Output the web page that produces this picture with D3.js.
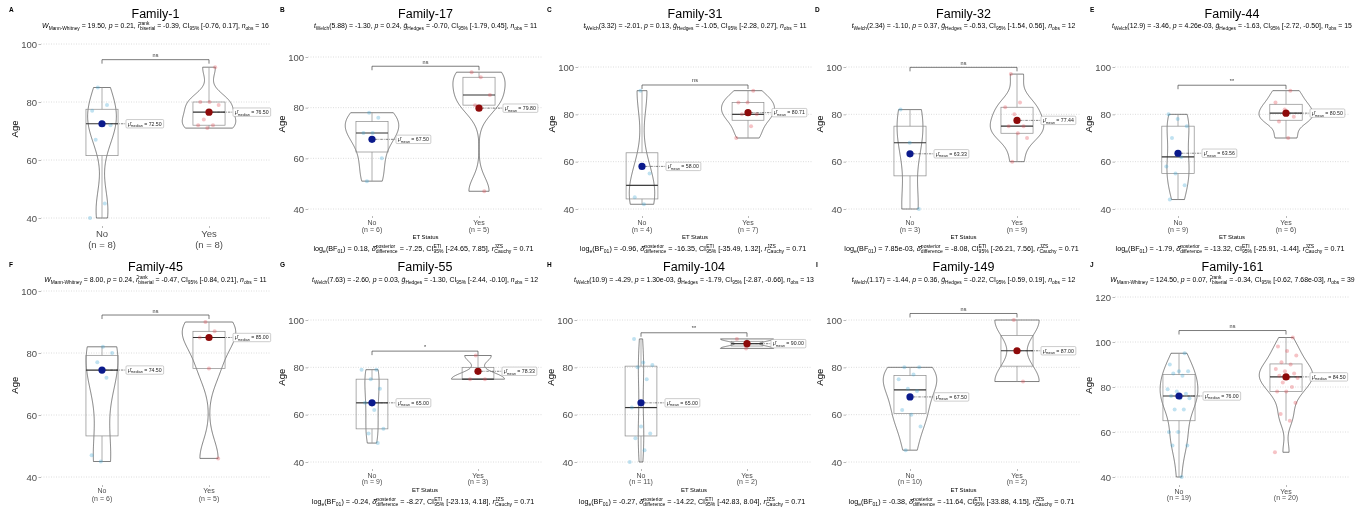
<!DOCTYPE html>
<html>
<head>
<meta charset="utf-8">
<script src="https://cdn.jsdelivr.net/npm/d3@7"></script>
<style>
  html, body { margin: 0; padding: 0; background: #fff; }
  svg { font-family: "Liberation Sans", Arial, Helvetica, sans-serif; will-change: transform; }
</style>
</head>
<body>
<svg id="chart" width="1369" height="510"></svg>
<script>
// ---- data ----------------------------------------------------------------
const panelTags = ["A", "B", "C", "D", "E", "F", "G", "H", "I", "J"];
const familyTitles = ["Family-1", "Family-17", "Family-31", "Family-32", "Family-44",
                      "Family-45", "Family-55", "Family-104", "Family-149", "Family-161"];
const groups = ["No", "Yes"];
const xAxisTitle = "ET Status";
const yAxisTitle = "Age";

// individual ages per family, ET status "No"
const ageNo = [
  [40, 45, 67, 72, 73, 77, 79, 85],
  [51, 60, 70, 70, 76, 78],
  [42, 45, 55, 90],
  [40, 68, 82],
  [44, 50, 55, 58, 62, 70, 75, 78, 80],
  [45, 47, 72, 77, 80, 82],
  [48, 52, 54, 62, 65, 71, 75, 79, 79],
  [40, 45, 50, 52, 55, 63, 75, 80, 81, 82, 92],
  [45, 55, 60, 62, 70, 71, 75, 77, 80, 80],
  [40, 54, 54, 60, 60, 70, 70, 75, 75, 76, 77, 78, 79, 85, 86, 87, 87, 90, 95]
];
// individual ages per family, ET status "Yes"
const ageYes = [
  [71, 72, 72, 74, 79, 80, 80, 92],
  [47, 81, 85, 92, 94],
  [70, 75, 80, 80, 85, 85, 90],
  [60, 70, 72, 75, 75, 80, 83, 85, 97],
  [70, 77, 79, 82, 85, 90],
  [46, 75, 85, 87, 90],
  [75, 75, 85],
  [88, 92],
  [74, 100],
  [51, 65, 68, 73, 78, 78, 80, 82, 84, 84, 85, 86, 87, 88, 90, 91, 94, 96, 98, 102]
];
// centrality measure shown per family and its value for each group
const centreKind = ["median", "mean", "mean", "mean", "mean", "median", "mean", "mean", "mean", "median"];
const centreNo  = [72.50, 67.50, 58.00, 63.33, 63.56, 74.50, 65.00, 65.00, 67.50, 76.00];
const centreYes = [76.50, 79.80, 80.71, 77.44, 80.50, 85.00, 78.33, 90.00, 87.00, 84.50];
const sigMarks = ["ns", "ns", "ns", "ns", "**", "ns", "*", "**", "ns", "ns"];
const yTickValues = [
  [40, 60, 80, 100], [40, 60, 80, 100], [40, 60, 80, 100], [40, 60, 80, 100], [40, 60, 80, 100],
  [40, 60, 80, 100], [40, 60, 80, 100], [40, 60, 80, 100], [40, 60, 80, 100], [40, 60, 80, 100, 120]
];
// statistical subtitles: *italic*, _{sub}, ^{sup}, #{sup|sub}
const subtitles = [
  "*W*_{Mann-Whitney} = 19.50, *p* = 0.21, *r̂*#{rank|biserial} = -0.39, CI_{95%} [-0.76, 0.17], *n*_{obs} = 16",
  "*t*_{Welch}(5.88) = -1.30, *p* = 0.24, *ĝ*_{Hedges} = -0.70, CI_{95%} [-1.79, 0.45], *n*_{obs} = 11",
  "*t*_{Welch}(3.32) = -2.01, *p* = 0.13, *ĝ*_{Hedges} = -1.05, CI_{95%} [-2.28, 0.27], *n*_{obs} = 11",
  "*t*_{Welch}(2.34) = -1.10, *p* = 0.37, *ĝ*_{Hedges} = -0.53, CI_{95%} [-1.54, 0.56], *n*_{obs} = 12",
  "*t*_{Welch}(12.9) = -3.46, *p* = 4.26e-03, *ĝ*_{Hedges} = -1.63, CI_{95%} [-2.72, -0.50], *n*_{obs} = 15",
  "*W*_{Mann-Whitney} = 8.00, *p* = 0.24, *r̂*#{rank|biserial} = -0.47, CI_{95%} [-0.84, 0.21], *n*_{obs} = 11",
  "*t*_{Welch}(7.63) = -2.60, *p* = 0.03, *ĝ*_{Hedges} = -1.30, CI_{95%} [-2.44, -0.10], *n*_{obs} = 12",
  "*t*_{Welch}(10.9) = -4.29, *p* = 1.30e-03, *ĝ*_{Hedges} = -1.79, CI_{95%} [-2.87, -0.66], *n*_{obs} = 13",
  "*t*_{Welch}(1.17) = -1.44, *p* = 0.36, *ĝ*_{Hedges} = -0.22, CI_{95%} [-0.59, 0.19], *n*_{obs} = 12",
  "*W*_{Mann-Whitney} = 124.50, *p* = 0.07, *r̂*#{rank|biserial} = -0.34, CI_{95%} [-0.62, 7.68e-03], *n*_{obs} = 39"
];
// Bayesian captions (null where none is shown)
const captions = [
  null,
  "log_{e}(BF_{01}) = 0.18, *δ̂*#{posterior|difference} = -7.25, CI#{ETI|95%} [-24.65, 7.85], *r*#{JZS|Cauchy} = 0.71",
  "log_{e}(BF_{01}) = -0.96, *δ̂*#{posterior|difference} = -16.35, CI#{ETI|95%} [-35.49, 1.32], *r*#{JZS|Cauchy} = 0.71",
  "log_{e}(BF_{01}) = 7.85e-03, *δ̂*#{posterior|difference} = -8.08, CI#{ETI|95%} [-26.21, 7.56], *r*#{JZS|Cauchy} = 0.71",
  "log_{e}(BF_{01}) = -1.79, *δ̂*#{posterior|difference} = -13.32, CI#{ETI|95%} [-25.91, -1.44], *r*#{JZS|Cauchy} = 0.71",
  null,
  "log_{e}(BF_{01}) = -0.24, *δ̂*#{posterior|difference} = -8.27, CI#{ETI|95%} [-23.13, 4.18], *r*#{JZS|Cauchy} = 0.71",
  "log_{e}(BF_{01}) = -0.27, *δ̂*#{posterior|difference} = -14.22, CI#{ETI|95%} [-42.83, 8.04], *r*#{JZS|Cauchy} = 0.71",
  "log_{e}(BF_{01}) = -0.38, *δ̂*#{posterior|difference} = -11.64, CI#{ETI|95%} [-33.88, 4.15], *r*#{JZS|Cauchy} = 0.71",
  null
];

// ---- layout ----------------------------------------------------------------
const rowText = [
  { titleY: 18, subY: 28, tagY: 12 },
  { titleY: 271, subY: 281.5, tagY: 267 }
];
const panelLayout = [
  { row: 0, axisX: 41,   noX: 102,  yesX: 209,  yLo: 218, yHi: 44,  hiVal: 100, xAxisY: 226, lab1Y: 237,   lab2Y: 248,   labSize: 9.5, etY: null,  capY: null, tagX: 9 },
  { row: 0, axisX: 308,  noX: 372,  yesX: 479,  yLo: 209, yHi: 57,  hiVal: 100, xAxisY: 216, lab1Y: 224.5, lab2Y: 231.5, labSize: 7,   etY: 238.5, capY: 251,  tagX: 280 },
  { row: 0, axisX: 578,  noX: 642,  yesX: 748,  yLo: 209, yHi: 67,  hiVal: 100, xAxisY: 216, lab1Y: 224.5, lab2Y: 231.5, labSize: 7,   etY: 238.5, capY: 251,  tagX: 547 },
  { row: 0, axisX: 846,  noX: 910,  yesX: 1017, yLo: 209, yHi: 67,  hiVal: 100, xAxisY: 216, lab1Y: 224.5, lab2Y: 231.5, labSize: 7,   etY: 238.5, capY: 251,  tagX: 815 },
  { row: 0, axisX: 1115, noX: 1178, yesX: 1286, yLo: 209, yHi: 67,  hiVal: 100, xAxisY: 216, lab1Y: 224.5, lab2Y: 231.5, labSize: 7,   etY: 238.5, capY: 251,  tagX: 1090 },
  { row: 1, axisX: 41,   noX: 102,  yesX: 209,  yLo: 477, yHi: 291, hiVal: 100, xAxisY: 485, lab1Y: 492.5, lab2Y: 500.5, labSize: 7,   etY: null,  capY: null, tagX: 9 },
  { row: 1, axisX: 308,  noX: 372,  yesX: 478,  yLo: 462, yHi: 320, hiVal: 100, xAxisY: 469, lab1Y: 477.5, lab2Y: 484,   labSize: 7,   etY: 491.5, capY: 504,  tagX: 280 },
  { row: 1, axisX: 577,  noX: 641,  yesX: 747,  yLo: 462, yHi: 320, hiVal: 100, xAxisY: 469, lab1Y: 477.5, lab2Y: 484,   labSize: 7,   etY: 491.5, capY: 504,  tagX: 547 },
  { row: 1, axisX: 846,  noX: 910,  yesX: 1017, yLo: 462, yHi: 320, hiVal: 100, xAxisY: 469, lab1Y: 477.5, lab2Y: 484,   labSize: 7,   etY: 491.5, capY: 504,  tagX: 816 },
  { row: 1, axisX: 1115, noX: 1179, yesX: 1286, yLo: 477, yHi: 297, hiVal: 120, xAxisY: 485, lab1Y: 493.5, lab2Y: 500,   labSize: 7,   etY: null,  capY: null, tagX: 1090 }
];
const pointFill = { No: "#3aa6d4", Yes: "#e2434f" };
const centreFill = { No: "#0b1a8c", Yes: "#8e0a0a" };
const textGrey = "#4d4d4d";

const svg = d3.select("#chart");

// ---- helpers -----------------------------------------------------------
// keep spaces visible inside separately placed text runs
const keepSpaces = s => s.replace(/ /g, "\u00A0");

function parseRich(str) {
  const segs = [];
  let buf = "", ital = false;
  const flush = () => { if (buf) { segs.push({ kind: "n", text: buf, ital }); buf = ""; } };
  for (let i = 0; i < str.length; i++) {
    const c = str[i];
    if (c === "*") { flush(); ital = !ital; continue; }
    if ((c === "_" || c === "^" || c === "#") && str[i + 1] === "{") {
      const end = str.indexOf("}", i + 2);
      const inner = str.slice(i + 2, end);
      flush();
      if (c === "#") { const [a, b] = inner.split("|"); segs.push({ kind: "stack", sup: a, sub: b }); }
      else segs.push({ kind: c === "_" ? "sub" : "sup", text: inner });
      i = end;
      continue;
    }
    buf += c;
  }
  flush();
  return segs;
}

function drawRich(parent, str, x0, y0, size, anchor, fill) {
  const g = parent.append("g").attr("fill", fill || "#000");
  const small = size * 0.7;
  let x = 0;
  const put = (t, dx, dy, fs, ital) => {
    const el = g.append("text").attr("x", dx).attr("y", dy).attr("font-size", fs)
      .attr("font-style", ital ? "italic" : null).text(keepSpaces(t));
    return el.node().getComputedTextLength();
  };
  for (const s of parseRich(str)) {
    if (s.kind === "n") x += put(s.text, x, 0, size, s.ital);
    else if (s.kind === "sub") x += put(s.text, x, size * 0.3, small);
    else if (s.kind === "sup") x += put(s.text, x, -size * 0.42, small);
    else {
      const w1 = put(s.sup, x, -size * 0.42, small);
      const w2 = put(s.sub, x, size * 0.32, small);
      x += Math.max(w1, w2);
    }
  }
  const off = anchor === "middle" ? -x / 2 : 0;
  g.attr("transform", `translate(${x0 + off},${y0})`);
  return x;
}

function bwNrd0(v) {
  const s = d3.deviation(v);
  const sorted = v.slice().sort(d3.ascending);
  const iqr = d3.quantileSorted(sorted, 0.75) - d3.quantileSorted(sorted, 0.25);
  let lo = Math.min(s, iqr / 1.34);
  if (!(lo > 0)) lo = s || Math.abs(v[0]) || 1;
  return 0.9 * lo * Math.pow(v.length, -0.2);
}

function densityCurve(v) {
  const bw = bwNrd0(v);
  const lo = d3.min(v), hi = d3.max(v);
  const steps = 160;
  return d3.range(steps + 1).map(k => {
    const t = lo + (hi - lo) * k / steps;
    const d = d3.sum(v, xi => Math.exp(-0.5 * ((t - xi) / bw) ** 2)) / (v.length * bw * Math.sqrt(2 * Math.PI));
    return [t, d];
  });
}

function boxStats(v) {
  const s = v.slice().sort(d3.ascending);
  const q1 = d3.quantileSorted(s, 0.25), med = d3.quantileSorted(s, 0.5), q3 = d3.quantileSorted(s, 0.75);
  const iqr = q3 - q1;
  const lowW = d3.min(s.filter(d => d >= q1 - 1.5 * iqr));
  const highW = d3.max(s.filter(d => d <= q3 + 1.5 * iqr));
  return { q1, med, q3, lowW, highW };
}

// ---- panels ------------------------------------------------------------
panelLayout.forEach((L, p) => {
  const R = rowText[L.row];
  const g = svg.append("g");
  const y = d3.scaleLinear().domain([40, L.hiVal]).range([L.yLo, L.yHi]);
  const x = d3.scalePoint().domain(groups).range([L.noX, L.yesX]);
  const unit = L.yesX - L.noX;
  const plotRight = L.yesX + (L.noX - L.axisX);
  const cx = (L.axisX + plotRight) / 2;
  const values = { No: ageNo[p], Yes: ageYes[p] };
  const centre = { No: centreNo[p], Yes: centreYes[p] };

  // panel tag, title, subtitle
  g.append("text").attr("x", L.tagX).attr("y", R.tagY).attr("font-size", 6.5)
    .attr("font-weight", "bold").text(panelTags[p]);
  g.append("text").attr("x", cx).attr("y", R.titleY).attr("text-anchor", "middle")
    .attr("font-size", 12.5).text(familyTitles[p]);
  drawRich(g, subtitles[p], cx, R.subY, 6.9, "middle", "#000");

  // gridlines
  g.append("g").selectAll("line").data(yTickValues[p]).join("line")
    .attr("x1", L.axisX).attr("x2", plotRight)
    .attr("y1", d => y(d)).attr("y2", d => y(d))
    .attr("stroke", "#cfcfcf").attr("stroke-width", 0.7).attr("stroke-dasharray", "1,1.5");

  // y axis
  const ya = g.append("g").attr("transform", `translate(${L.axisX},0)`)
    .call(d3.axisLeft(y).tickValues(yTickValues[p]).tickSize(2.5).tickPadding(1.5));
  ya.select(".domain").remove();
  ya.selectAll(".tick line").attr("stroke", "#888").attr("stroke-width", 0.6);
  ya.selectAll(".tick text").attr("font-size", 9.5).attr("fill", textGrey)
    .attr("font-family", "Liberation Sans, Arial, sans-serif");
  g.append("text")
    .attr("transform", `translate(${L.axisX - 23},${(R.subY + 4 + L.xAxisY) / 2}) rotate(-90)`)
    .attr("text-anchor", "middle").attr("font-size", 9.5).text(yAxisTitle);

  // x axis ticks and labels
  const xa = g.append("g").attr("transform", `translate(0,${L.xAxisY})`)
    .call(d3.axisBottom(x).tickSize(2).tickFormat(""));
  xa.select(".domain").remove();
  xa.selectAll(".tick line").attr("stroke", "#888").attr("stroke-width", 0.6);
  groups.forEach(grp => {
    g.append("text").attr("x", x(grp)).attr("y", L.lab1Y).attr("text-anchor", "middle")
      .attr("font-size", L.labSize).attr("fill", textGrey).text(grp);
    g.append("text").attr("x", x(grp)).attr("y", L.lab2Y).attr("text-anchor", "middle")
      .attr("font-size", L.labSize).attr("fill", textGrey).text(`(n = ${values[grp].length})`);
  });
  if (L.etY !== null) {
    g.append("text").attr("x", (L.noX + L.yesX) / 2).attr("y", L.etY).attr("text-anchor", "middle")
      .attr("font-size", 6).text(xAxisTitle);
  }
  if (captions[p]) drawRich(g, captions[p], (L.noX + L.yesX) / 2 - 2, L.capY, 7.2, "middle", "#000");

  // violins (area-scaled within the panel)
  const curves = groups.map(grp => densityCurve(values[grp]));
  const dMax = d3.max(curves, c => d3.max(c, d => d[1]));
  const halfW = 0.25 * unit;
  groups.forEach((grp, gi) => {
    const c = curves[gi];
    const right = c.map(([t, d]) => [x(grp) + halfW * d / dMax, y(t)]);
    const left = c.slice().reverse().map(([t, d]) => [x(grp) - halfW * d / dMax, y(t)]);
    g.append("path").attr("d", d3.line()(right.concat(left)) + "Z")
      .attr("fill", "none").attr("stroke", "#3a3a3a").attr("stroke-width", 0.65);
  });

  // boxplots
  const boxHalf = 0.15 * unit;
  groups.forEach(grp => {
    const b = boxStats(values[grp]);
    const xc = x(grp);
    g.append("line").attr("x1", xc).attr("x2", xc).attr("y1", y(b.q3)).attr("y2", y(b.highW))
      .attr("stroke", "#9a9a9a").attr("stroke-width", 0.8);
    g.append("line").attr("x1", xc).attr("x2", xc).attr("y1", y(b.q1)).attr("y2", y(b.lowW))
      .attr("stroke", "#9a9a9a").attr("stroke-width", 0.8);
    g.append("rect").attr("x", xc - boxHalf).attr("width", 2 * boxHalf)
      .attr("y", y(b.q3)).attr("height", Math.max(0.5, y(b.q1) - y(b.q3)))
      .attr("fill", "none").attr("stroke", "#8a8a8a").attr("stroke-width", 0.7);
    g.append("line").attr("x1", xc - boxHalf).attr("x2", xc + boxHalf)
      .attr("y1", y(b.med)).attr("y2", y(b.med))
      .attr("stroke", "#333").attr("stroke-width", 1.2);
  });

  // jittered observations
  groups.forEach((grp, gi) => {
    g.append("g").selectAll("circle").data(values[grp]).join("circle")
      .attr("cx", (d, i) => x(grp) + (((i * 0.6180339887 + p * 0.29 + gi * 0.43) % 1) - 0.5) * 24)
      .attr("cy", d => y(d)).attr("r", 2)
      .attr("fill", pointFill[grp]).attr("fill-opacity", 0.32);
  });

  // significance bracket
  const allVals = values.No.concat(values.Yes);
  const vMax = d3.max(allVals), vMin = d3.min(allVals);
  const by = y(vMax + 0.05 * (vMax - vMin));
  g.append("path")
    .attr("d", `M${x("No")},${by + 4}V${by}H${x("Yes")}V${by + 4}`)
    .attr("fill", "none").attr("stroke", "#444").attr("stroke-width", 0.7);
  g.append("text").attr("x", (x("No") + x("Yes")) / 2).attr("y", by - 2.5)
    .attr("text-anchor", "middle").attr("font-size", 5.5).attr("fill", "#333").text(sigMarks[p]);

  // centrality points and labels
  groups.forEach(grp => {
    const xc = x(grp), yc = y(centre[grp]);
    const lx = xc + 24;
    g.append("line").attr("x1", xc + 3).attr("x2", lx).attr("y1", yc).attr("y2", yc)
      .attr("stroke", "#333").attr("stroke-width", 0.6).attr("stroke-dasharray", "2.5,1,0.8,1");
    const lab = g.append("g");
    const rect = lab.append("rect");
    const w = drawRich(lab, `*μ̂*_{${centreKind[p]}} = ${centre[grp].toFixed(2)}`, lx + 2, yc + 1.8, 5.2, "start", "#222");
    rect.attr("x", lx).attr("y", yc - 4.2).attr("width", w + 4).attr("height", 8.4)
      .attr("fill", "#fff").attr("stroke", "#9a9a9a").attr("stroke-width", 0.5).attr("rx", 1);
    g.append("circle").attr("cx", xc).attr("cy", yc).attr("r", 3.6).attr("fill", centreFill[grp]);
  });
});
</script>
</body>
</html>
